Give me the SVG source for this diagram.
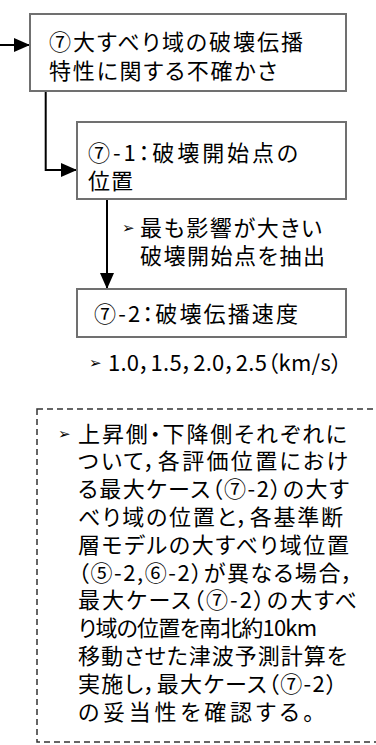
<svg xmlns="http://www.w3.org/2000/svg" width="376" height="745" viewBox="0 0 376 745">
<style>
.box{fill:#fff;stroke:#707070;stroke-width:2}
.t{font-family:"Noto Sans CJK JP","Noto Sans",sans-serif;font-size:22px;fill:#000;font-feature-settings:"palt"}
.b{font-family:"DejaVu Sans",sans-serif;font-size:15px;fill:#000}
.c{fill:none;stroke:#000;stroke-width:2}
.dash{fill:none;stroke:#333;stroke-width:1.5;stroke-dasharray:6 4}
</style>
<defs>
<marker id="ah" markerUnits="userSpaceOnUse" markerWidth="16" markerHeight="14" refX="16" refY="7" orient="auto">
<path d="M0,0 L16,7 L0,14 z" fill="#000"/>
</marker>
</defs>
<g id="connectors">
<path class="c" d="M0,45 H30" marker-end="url(#ah)"/>
<path class="c" d="M45.7,91 V170 H77" marker-end="url(#ah)"/>
<path class="c" d="M107,199 V289" marker-end="url(#ah)"/>
</g>
<g id="node1">
<rect class="box" x="30" y="14" width="316" height="77"/>
<text class="t" x="49" y="50" textLength="254" lengthAdjust="spacing">⑦大すべり域の破壊伝播</text>
<text class="t" x="49" y="78.5" textLength="228" lengthAdjust="spacing">特性に関する不確かさ</text>
</g>
<g id="node2">
<rect class="box" x="77" y="122" width="269" height="77"/>
<text class="t" x="88" y="160.5" textLength="210" lengthAdjust="spacing">⑦-1：破壊開始点の</text>
<text class="t" x="88" y="188.5" textLength="45" lengthAdjust="spacing">位置</text>
</g>
<g id="label1">
<text class="b" x="122" y="233">➢</text>
<text class="t" x="140" y="235.5" textLength="182" lengthAdjust="spacing">最も影響が大きい</text>
<text class="t" x="140" y="263.5" textLength="185" lengthAdjust="spacing">破壊開始点を抽出</text>
</g>
<g id="node3">
<rect class="box" x="77" y="289" width="269" height="48"/>
<text class="t" x="94" y="322" textLength="204" lengthAdjust="spacing">⑦-2：破壊伝播速度</text>
</g>
<g id="label2">
<text class="b" x="89" y="368">➢</text>
<text class="t" x="108" y="370.5" textLength="234" lengthAdjust="spacing">1.0，1.5，2.0，2.5（km/s）</text>
</g>
<g id="note">
<rect class="dash" x="37" y="409" width="345" height="333"/>
<text class="b" x="58" y="439">➢</text>
<text class="t" x="78" y="441.5" textLength="269" lengthAdjust="spacing">上昇側・下降側それぞれに</text>
<text class="t" x="78" y="469.3" textLength="270" lengthAdjust="spacing">ついて，各評価位置におけ</text>
<text class="t" x="78" y="497.1" textLength="271" lengthAdjust="spacing">る最大ケース（⑦-2）の大す</text>
<text class="t" x="78" y="524.9" textLength="265" lengthAdjust="spacing">べり域の位置と，各基準断</text>
<text class="t" x="78" y="552.7" textLength="271" lengthAdjust="spacing">層モデルの大すべり域位置</text>
<text class="t" x="78" y="580.5" textLength="275" lengthAdjust="spacing">（⑤-2,⑥-2）が異なる場合，</text>
<text class="t" x="78" y="608.3" textLength="279" lengthAdjust="spacing">最大ケース（⑦-2）の大すべ</text>
<text class="t" x="78" y="636.1" textLength="239" lengthAdjust="spacing">り域の位置を南北約10km</text>
<text class="t" x="78" y="663.9" textLength="269" lengthAdjust="spacing">移動させた津波予測計算を</text>
<text class="t" x="78" y="691.7" textLength="259" lengthAdjust="spacing">実施し，最大ケース（⑦-2）</text>
<text class="t" x="78" y="719.5" textLength="236" lengthAdjust="spacing">の妥当性を確認する。</text>
</g>
</svg>
